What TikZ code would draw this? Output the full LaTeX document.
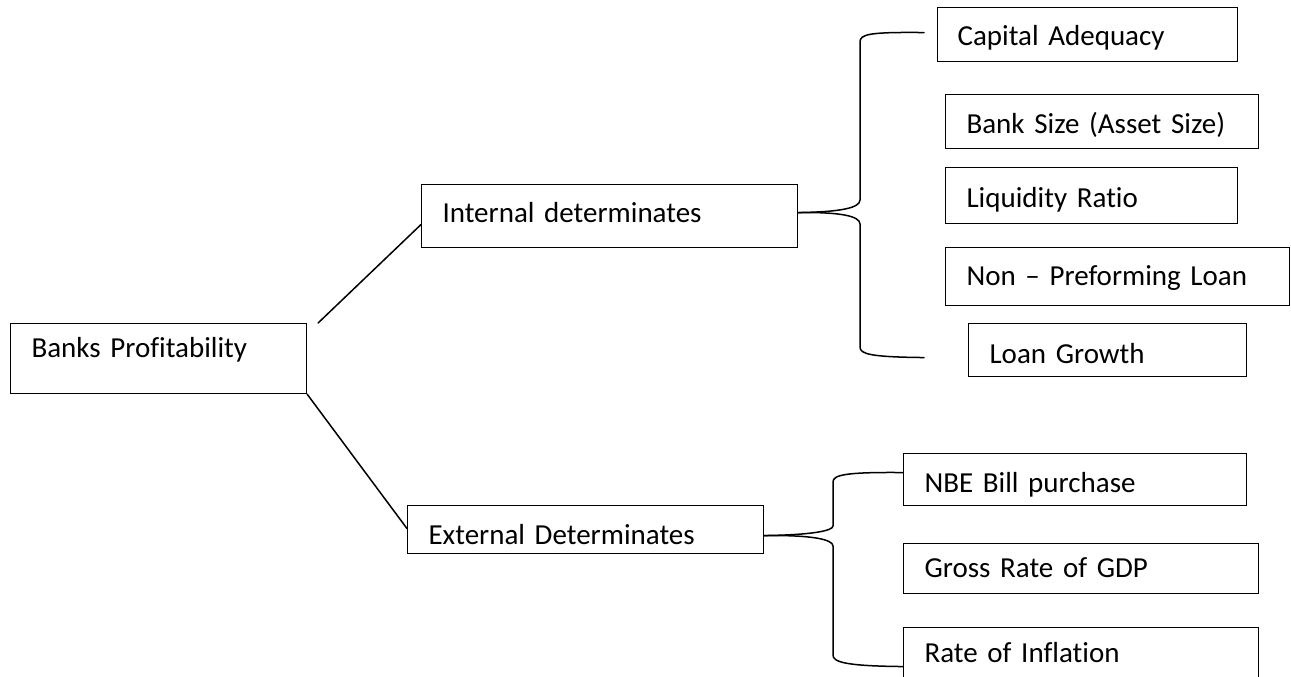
\documentclass[tikz,border=0pt]{standalone}
\usepackage{fontspec}
\setmainfont{Carlito}[Ligatures={NoCommon}]
\newcommand\myboxfont{\fontsize{29}{34}\selectfont\spaceskip=4.8pt\relax}
\begin{document}
\begin{tikzpicture}[x=1pt,y=-1pt,
  bx/.style={draw, line width=1.1pt, anchor=north west, inner ysep=0pt, align=left,
    font=\myboxfont, text depth=5pt},
  conn/.style={draw, line width=1.5pt, line cap=round}]
\useasboundingbox (0,0) rectangle (1291,677);
% boxes
\node[bx, minimum width=296pt, minimum height=70pt, inner xsep=21pt, text width=254pt, text height=3pt] (banks) at (10,323) {Banks Profitability};
\node[bx, minimum width=376pt, minimum height=63pt, inner xsep=21pt, text width=334pt, text height=18pt] (internal) at (421,184) {Internal determinates};
\node[bx, minimum width=356pt, minimum height=48pt, inner xsep=21pt, text width=314pt, text height=35pt] (external) at (407,505) {External Determinates};
\node[bx, minimum width=300pt, minimum height=54pt, inner xsep=20pt, text width=260pt, text height=27pt] (capital) at (937,7) {Capital Adequacy};
\node[bx, minimum width=313pt, minimum height=54pt, inner xsep=21pt, text width=271pt, text height=29pt] (banksize) at (945,94) {Bank Size (Asset Size)};
\node[bx, minimum width=292pt, minimum height=56pt, inner xsep=21pt, text width=250pt, text height=29pt] (liquidity) at (945,167) {Liquidity Ratio};
\node[bx, minimum width=344pt, minimum height=58pt, inner xsep=21pt, text width=302pt, text height=23pt] (nonperf) at (945,247) {Non – Preforming Loan};
\node[bx, minimum width=278pt, minimum height=53pt, inner xsep=21pt, text width=236pt, text height=32pt] (loangrowth) at (968,323) {Loan Growth};
\node[bx, minimum width=343pt, minimum height=52pt, inner xsep=21pt, text width=301pt, text height=31pt] (nbe) at (903,453) {NBE Bill purchase};
\node[bx, minimum width=355pt, minimum height=50pt, inner xsep=21pt, text width=313pt, text height=23pt] (gross) at (903,543) {Gross Rate of GDP};
\node[bx, minimum width=355pt, minimum height=60pt, inner xsep=21pt, text width=313pt, text height=15pt] (rate) at (903,627) {Rate of Inflation};
% brace end points
\coordinate (itip) at ([yshift=3.5pt]internal.east);
\coordinate (etip) at ([yshift=-6pt]external.east);
\coordinate (ca) at ([xshift=-13pt,yshift=2pt]capital.west);
\coordinate (lg) at ([xshift=-44pt,yshift=-7.5pt]loangrowth.west);
\coordinate (nb) at ([yshift=7pt]nbe.west);
\coordinate (ri) at ([yshift=-9pt]rate.west);
% connectors from the root
\draw[conn] ([xshift=11pt]banks.north east) -- ([yshift=-8.5pt]internal.west);
\draw[conn] (banks.south east) -- ([yshift=1pt]external.west);
% internal brace
\draw[conn] (itip) .. controls (840,212) and (860,208) .. (860,200) -- (860,42) .. controls (860,34) and (870,32) .. (ca);
\draw[conn] (itip) .. controls (840,212) and (860,216) .. (860,224) -- (860,347) .. controls (860,354) and (870,357) .. (lg);
% external brace
\draw[conn] (etip) .. controls (810,535) and (833,531) .. (833,526) -- (833,482) .. controls (833,475) and (845,472) .. (nb);
\draw[conn] (etip) .. controls (810,535) and (833,539) .. (833,546) -- (833,655) .. controls (833,662) and (845,666) .. (ri);
\end{tikzpicture}
\end{document}
